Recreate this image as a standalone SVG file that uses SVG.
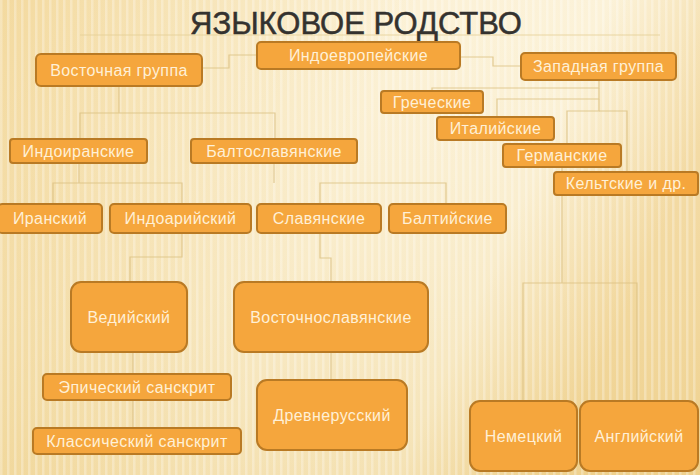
<svg xmlns="http://www.w3.org/2000/svg" width="700" height="475" viewBox="0 0 700 475">
<defs>
<linearGradient id="bg" x1="0" y1="0" x2="1" y2="0.3">
<stop offset="0" stop-color="#f1d38e"/>
<stop offset="0.55" stop-color="#fbefcf"/>
<stop offset="0.8" stop-color="#fbf0d2"/>
<stop offset="1" stop-color="#f2d698"/>
</linearGradient>
<linearGradient id="bgv" x1="0" y1="0" x2="0" y2="1">
<stop offset="0" stop-color="#ffffff" stop-opacity="0.15"/>
<stop offset="1" stop-color="#e8c77a" stop-opacity="0.35"/>
</linearGradient>
<pattern id="stripes" width="7" height="475" patternUnits="userSpaceOnUse">
<rect x="0" y="0" width="2.5" height="475" fill="#ffffff" opacity="0.28"/>
</pattern>
<style>
.box{fill:#f5a63d;stroke:#b97a24;stroke-width:2}
.lbl{font-family:"Liberation Sans",Arial,sans-serif;font-size:16px;letter-spacing:0.4px;fill:#fff0d6;text-anchor:middle;dominant-baseline:central}
.con{fill:none;stroke:#dcc182;stroke-width:1.2;opacity:0.8}
.title{font-family:"Liberation Sans",Arial,sans-serif;font-size:31px;fill:#34322f;stroke:#34322f;stroke-width:0.5;text-anchor:middle}
</style>
</defs>
<rect width="700" height="475" fill="url(#bg)"/>
<rect width="700" height="475" fill="url(#bgv)"/>
<rect width="700" height="475" fill="url(#stripes)"/>
<line x1="80" y1="35" x2="660" y2="35" stroke="#e6cf95" stroke-width="1.2" opacity="0.8"/>
<text class="title" x="356" y="34">ЯЗЫКОВОЕ РОДСТВО</text>

<g id="connectors" class="con">
<path d="M202,68 H229 V55 H257"/>
<path d="M460,57 H493 V66 H521"/>
<path d="M119,86 V113 M80,139 V113 H275 V139"/>
<path d="M79,163 V183 M53,204 V183 H182 V204"/>
<path d="M274,163 V183 M320,204 V183 H446 V204"/>
<path d="M182,233 V257 H130 V282"/>
<path d="M320,233 V258 H331 V282"/>
<path d="M133,352 V374 M133,400 V428"/>
<path d="M331,352 V380"/>
<path d="M599,80 V88 H432 V91"/>
<path d="M599,88 V99 H497 V117"/>
<path d="M599,99 V111 H567 V144"/>
<path d="M599,111 H627 V172"/>
<path d="M562,167 V283 M523,401 V283 H637 V401"/>
</g>

<g id="n-indoevr"><rect class="box" x="257" y="42" width="203" height="27" rx="4"/><text class="lbl" x="358.5" y="55.5">Индоевропейские</text></g>
<g id="n-vost"><rect class="box" x="36" y="54" width="166" height="32" rx="5"/><text class="lbl" x="119" y="70">Восточная группа</text></g>
<g id="n-zap"><rect class="box" x="521" y="53" width="155" height="27" rx="4"/><text class="lbl" x="598.5" y="66.5">Западная группа</text></g>
<g id="n-grech"><rect class="box" x="381" y="91" width="102" height="22" rx="3"/><text class="lbl" x="432" y="102">Греческие</text></g>
<g id="n-ital"><rect class="box" x="437" y="117" width="117" height="23" rx="3"/><text class="lbl" x="495.5" y="128.5">Италийские</text></g>
<g id="n-germ"><rect class="box" x="503" y="144" width="118" height="23" rx="3"/><text class="lbl" x="562" y="155.5">Германские</text></g>
<g id="n-kelt"><rect class="box" x="554" y="172" width="144" height="23" rx="3"/><text class="lbl" x="626" y="183.5">Кельтские и др.</text></g>
<g id="n-indoiran"><rect class="box" x="10" y="139" width="137" height="24" rx="3"/><text class="lbl" x="78.5" y="151">Индоиранские</text></g>
<g id="n-baltoslav"><rect class="box" x="191" y="139" width="166" height="24" rx="3"/><text class="lbl" x="274" y="151">Балтославянские</text></g>
<g id="n-iran"><rect class="box" x="-2" y="204" width="104" height="29" rx="4"/><text class="lbl" x="50" y="218.5">Иранский</text></g>
<g id="n-indoar"><rect class="box" x="110" y="204" width="141" height="29" rx="4"/><text class="lbl" x="180.5" y="218.5">Индоарийский</text></g>
<g id="n-slav"><rect class="box" x="257" y="204" width="124" height="29" rx="4"/><text class="lbl" x="319" y="218.5">Славянские</text></g>
<g id="n-balt"><rect class="box" x="389" y="204" width="117" height="29" rx="4"/><text class="lbl" x="447.5" y="218.5">Балтийские</text></g>
<g id="n-ved"><rect class="box" x="71" y="282" width="116" height="70" rx="10"/><text class="lbl" x="129" y="317">Ведийский</text></g>
<g id="n-vostslav"><rect class="box" x="234" y="282" width="194" height="70" rx="10"/><text class="lbl" x="331" y="317">Восточнославянские</text></g>
<g id="n-epic"><rect class="box" x="43" y="374" width="188" height="26" rx="4"/><text class="lbl" x="137" y="387">Эпический санскрит</text></g>
<g id="n-klass"><rect class="box" x="33" y="428" width="208" height="26" rx="4"/><text class="lbl" x="137" y="441">Классический санскрит</text></g>
<g id="n-drevnerus"><rect class="box" x="257" y="380" width="150" height="70" rx="10"/><text class="lbl" x="332" y="415">Древнерусский</text></g>
<g id="n-nem"><rect class="box" x="470" y="401" width="107" height="70" rx="10"/><text class="lbl" x="523.5" y="436">Немецкий</text></g>
<g id="n-angl"><rect class="box" x="580" y="401" width="118" height="70" rx="10"/><text class="lbl" x="639" y="436">Английский</text></g>
</svg>
